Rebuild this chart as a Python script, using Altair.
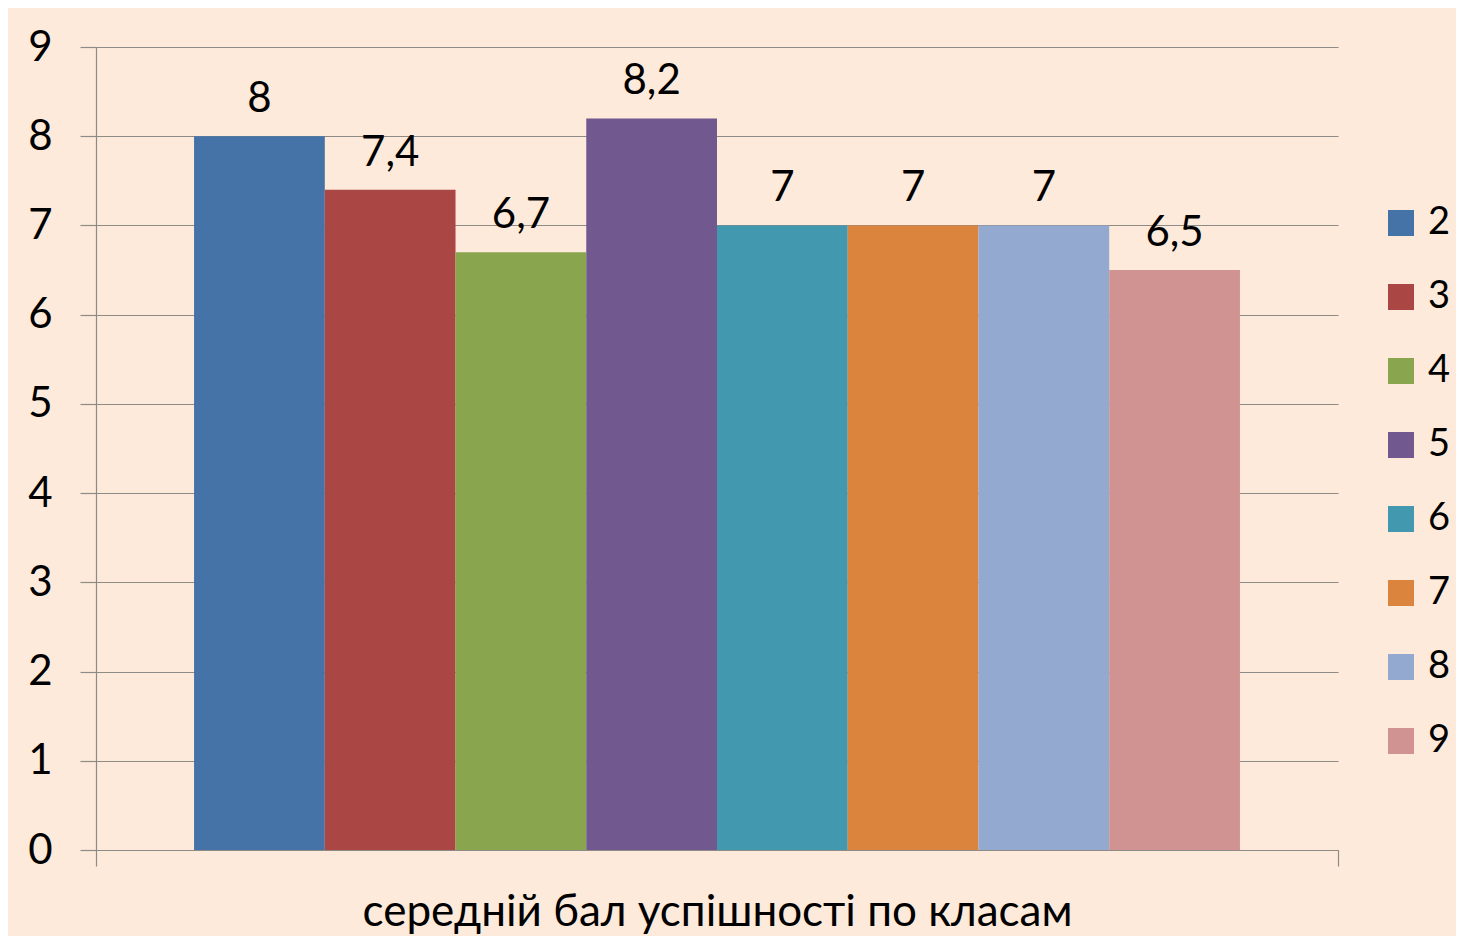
import altair as alt
import pandas as pd

category = "середній бал успішності по класам"
classes = ["2", "3", "4", "5", "6", "7", "8", "9"]
scores = [8, 7.4, 6.7, 8.2, 7, 7, 7, 6.5]
score_labels = ["8", "7,4", "6,7", "8,2", "7", "7", "7", "6,5"]
colors = ["#4572A7", "#AA4643", "#89A54E", "#71588F", "#4198AF", "#DB843D", "#93A9CF", "#D19392"]
y_ticks = [0, 1, 2, 3, 4, 5, 6, 7, 8, 9]

df = pd.DataFrame({"category": [category] * len(classes), "cls": classes,
                   "score": scores, "label": score_labels})

FONT = "Lato"
W, H = 1242, 803

x = alt.X("category:N", title=None,
          scale=alt.Scale(paddingInner=0, paddingOuter=0),
          axis=alt.Axis(labelAngle=0, labelFontSize=44, labelColor="#000000", labelFont=FONT,
                        labelLimit=0, labelPadding=24, tickBand="extent", tickSize=16,
                        tickColor="#8E8A86", domainColor="#8E8A86", domainWidth=1.2,
                        tickWidth=1.2))
xo = alt.XOffset("cls:N", sort=classes,
                 scale=alt.Scale(paddingInner=0, paddingOuter=0.75))
y = alt.Y("score:Q", title=None,
          scale=alt.Scale(domain=[0, 9], nice=False),
          axis=alt.Axis(values=y_ticks, labelFontSize=42, labelColor="#000000", labelFont=FONT,
                        labelPadding=28, tickSize=16, tickColor="#8E8A86", tickWidth=1.2,
                        grid=True, gridColor="#8E8A86", gridWidth=1.2,
                        domainColor="#8E8A86", domainWidth=1.2))
color = alt.Color("cls:N", sort=classes, title=None,
                  scale=alt.Scale(domain=classes, range=colors),
                  legend=alt.Legend(orient="none", legendX=1286, legendY=157,
                                    symbolType="square", symbolSize=676, symbolStrokeWidth=0,
                                    labelFontSize=38, labelFont=FONT, labelColor="#000000",
                                    labelOffset=8, rowPadding=36))

bars = alt.Chart(df).mark_bar().encode(x=x, xOffset=xo, y=y, color=color)
texts = alt.Chart(df).mark_text(fontSize=42, font=FONT, color="#000000",
                                baseline="alphabetic", dy=-24).encode(
    x=x, xOffset=xo, y=y, text="label:N")

chart = alt.layer(bars, texts).properties(
    width=W, height=H,
    autosize=alt.AutoSizeParams(type="none"),
    padding={"left": 88, "top": 39, "right": 118, "bottom": 86},
    background="#FDEADA",
).configure_view(stroke=None)

chart.save("out.html", embed_options={"renderer": "svg", "actions": False})
